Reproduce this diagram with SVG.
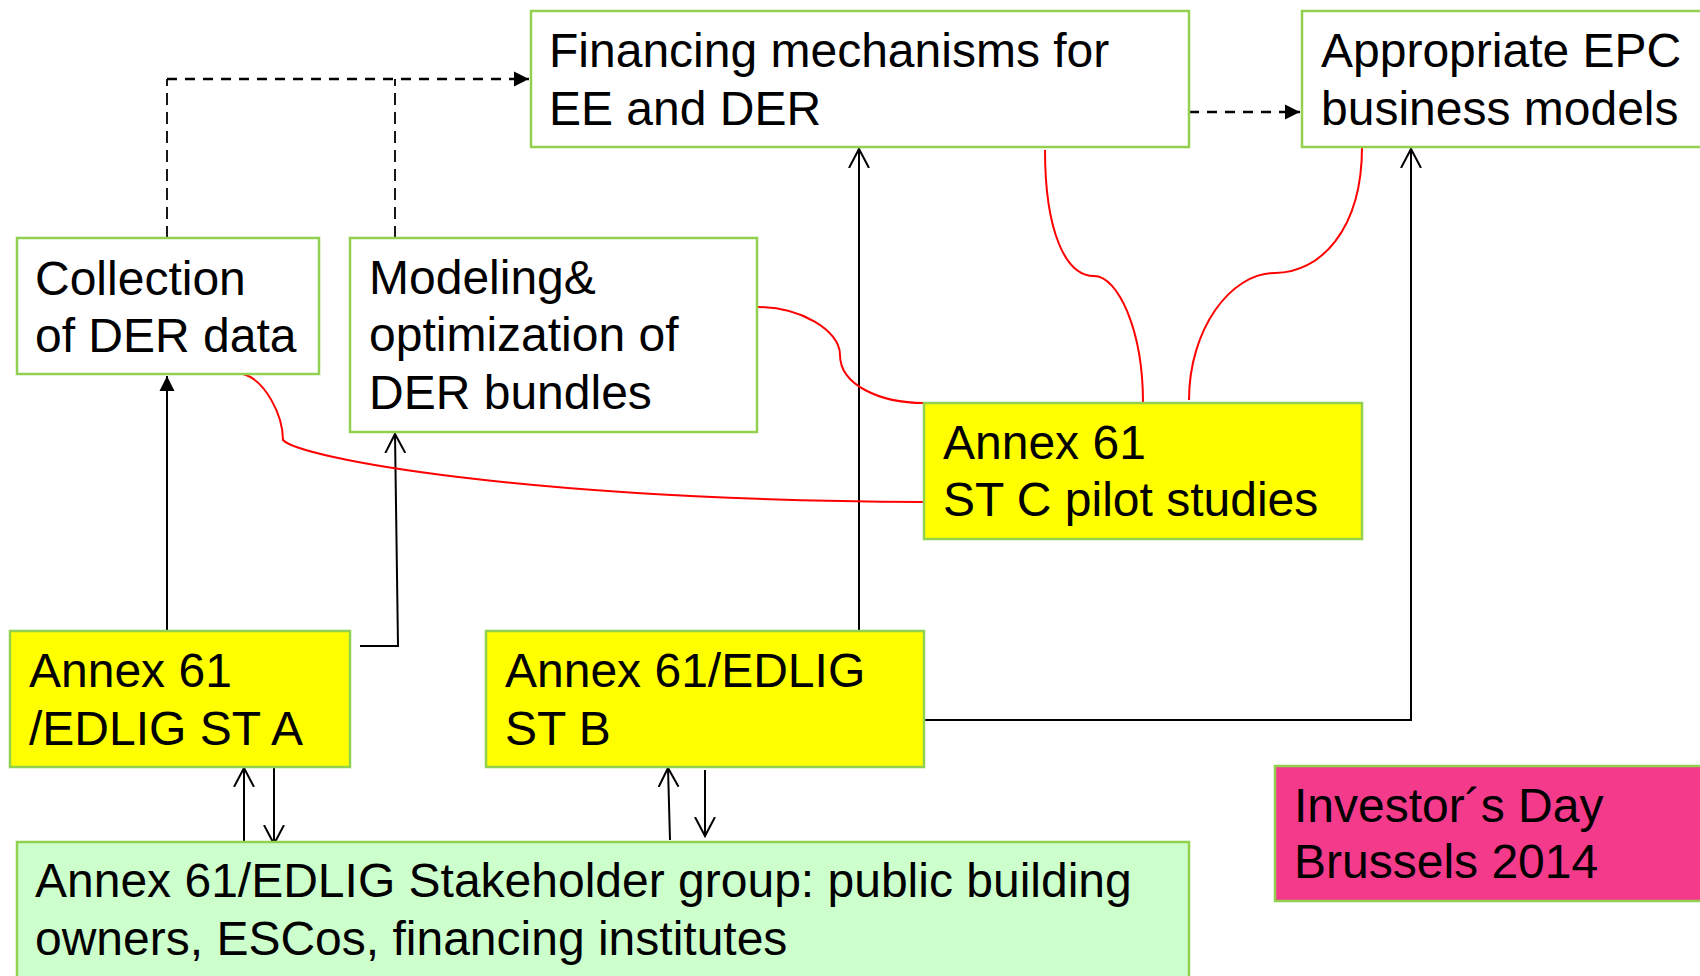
<svg xmlns="http://www.w3.org/2000/svg" width="1700" height="976" viewBox="0 0 1700 976">
<style>
.box{stroke:#92D050;stroke-width:2.5}
.w{fill:#FFFFFF}
.y{fill:#FFFF00}
.g{fill:#CCFFCC}
.p{fill:#F33A8B}
text{font-family:"Liberation Sans",Arial,sans-serif;font-size:48px;fill:#000000}
.ln{fill:none;stroke:#000000;stroke-width:2}
.dh{fill:none;stroke:#000000;stroke-width:2.5;stroke-dasharray:10 8}
.dv{fill:none;stroke:#000000;stroke-width:1.8;stroke-dasharray:12 7}
.red{fill:none;stroke:#FF0000;stroke-width:2}
</style>
<defs>
<marker id="fill" markerUnits="userSpaceOnUse" markerWidth="16" markerHeight="16" refX="15" refY="8" orient="auto">
<path d="M0,0.5 L15,8 L0,15.5 z" fill="#000000"/>
</marker>
<marker id="open" markerUnits="userSpaceOnUse" markerWidth="22" markerHeight="24" refX="19" refY="11" orient="auto">
<path d="M0,1 L19,11 L0,21" fill="none" stroke="#000000" stroke-width="2"/>
</marker>
</defs>
<rect width="1700" height="976" fill="#FFFFFF"/>

<g id="connectors">
<path class="dh" d="M167,79 H529" marker-end="url(#fill)"/>
<path class="dv" d="M167,238 V79"/>
<path class="dv" d="M395,238 V79"/>
<path class="dh" d="M1189,112 H1300" marker-end="url(#fill)"/>
<path class="ln" d="M167,631 V376" marker-end="url(#fill)"/>
<path class="ln" d="M360,646 H398 L395,434" marker-end="url(#open)"/>
<path class="ln" d="M859,631 V149" marker-end="url(#open)"/>
<path class="ln" d="M924,720 H1411 V149" marker-end="url(#open)"/>
<path class="ln" d="M244,842 V768" marker-end="url(#open)"/>
<path class="ln" d="M274,767 V844" marker-end="url(#open)"/>
<path class="ln" d="M670,840 L668,768" marker-end="url(#open)"/>
<path class="ln" d="M705,770 V836" marker-end="url(#open)"/>
<path class="red" d="M243,374 C265,380 283,415 283,440 C300,458 520,500 924,502"/>
<path class="red" d="M757,307 C800,307 840,330 840,355 C840,385 880,403 924,403"/>
<path class="red" d="M1045,150 C1045,230 1065,276 1094,276 C1118,276 1143,330 1143,403"/>
<path class="red" d="M1362,147 C1362,230 1320,273 1275,273 C1230,273 1189,330 1189,400"/>
</g>

<g id="financing">
<rect class="box w" x="531" y="11" width="658" height="136"/>
<text x="549" y="67">Financing mechanisms for</text>
<text x="549" y="124.5">EE and DER</text>
</g>

<g id="epc">
<rect class="box w" x="1302" y="11" width="410" height="136"/>
<text x="1321" y="67">Appropriate EPC</text>
<text x="1321" y="124.5">business models</text>
</g>

<g id="collection">
<rect class="box w" x="17" y="238" width="302" height="136"/>
<text x="35" y="295">Collection</text>
<text x="35" y="352">of DER data</text>
</g>

<g id="modeling">
<rect class="box w" x="350" y="238" width="407" height="194"/>
<text x="369" y="294">Modeling&amp;</text>
<text x="369" y="351">optimization of</text>
<text x="369" y="409">DER bundles</text>
</g>

<g id="stc">
<rect class="box y" x="924" y="403" width="438" height="136"/>
<text x="943" y="459">Annex 61</text>
<text x="943" y="516">ST C pilot studies</text>
</g>

<g id="sta">
<rect class="box y" x="10" y="631" width="340" height="136"/>
<text x="29" y="687">Annex 61</text>
<text x="29" y="745">/EDLIG ST A</text>
</g>

<g id="stb">
<rect class="box y" x="486" y="631" width="438" height="136"/>
<text x="505" y="687">Annex 61/EDLIG</text>
<text x="505" y="745">ST B</text>
</g>

<g id="stakeholder">
<rect class="box g" x="17" y="842" width="1172" height="150"/>
<text x="35" y="897">Annex 61/EDLIG Stakeholder group: public building</text>
<text x="35" y="955">owners, ESCos, financing institutes</text>
</g>

<g id="investor">
<rect class="box p" x="1275" y="766" width="437" height="135"/>
<text x="1294" y="822">Investor´s Day</text>
<text x="1294" y="878">Brussels 2014</text>
</g>
</svg>
